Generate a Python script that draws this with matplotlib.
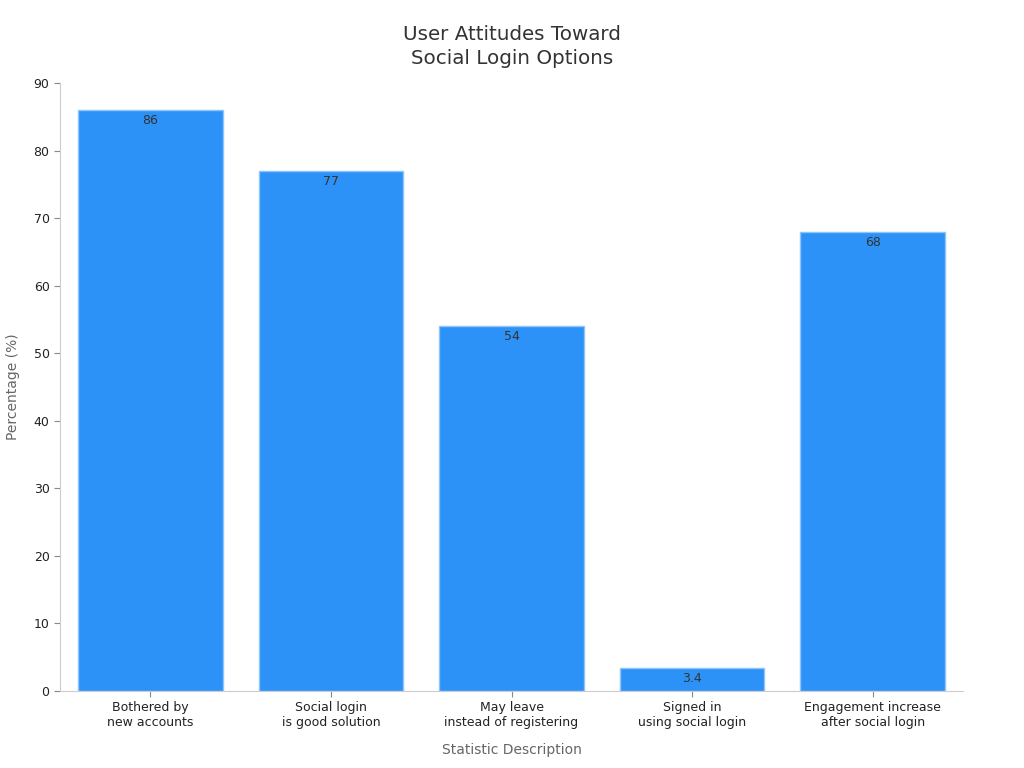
import matplotlib
matplotlib.use("Agg")
import matplotlib.pyplot as plt

categories = ["Bothered by\nnew accounts", "Social login\nis good solution",
              "May leave\ninstead of registering", "Signed in\nusing social login",
              "Engagement increase\nafter social login"]
values = [86, 77, 54, 3.4, 68]
value_labels = ["86", "77", "54", "3.4", "68"]

fig = plt.figure(figsize=(10.24, 7.68), dpi=100)
ax = fig.add_axes([60/1024, 1-691/768, 903/1024, 608/768])

x = range(len(categories))
bars = ax.bar(x, values, width=0.8, color="#2d92f8", edgecolor="#8cc4fb", linewidth=1)
for b, lab in zip(bars, value_labels):
    ax.text(b.get_x() + b.get_width()/2, b.get_height() - 0.6, lab,
            ha="center", va="top", fontsize=9, color="#333333")

ax.set_xlim(-0.5, 4.5)
ax.set_ylim(0, 90)
ax.set_yticks(range(0, 91, 10))
ax.set_xticks(list(x))
ax.set_xticklabels(categories, fontsize=9, color="#222222")
ax.tick_params(axis="y", labelsize=9, labelcolor="#222222", color="#888888", length=4)
ax.tick_params(axis="x", color="#888888", length=4)
for s in ["top", "right"]:
    ax.spines[s].set_visible(False)
for s in ["left", "bottom"]:
    ax.spines[s].set_color("#cccccc")

ax.set_xlabel("Statistic Description", fontsize=10, color="#666666", labelpad=10)
ax.set_ylabel("Percentage (%)", fontsize=10, color="#666666", labelpad=10)
fig.suptitle("User Attitudes Toward\nSocial Login Options", fontsize=14.3, color="#333333",
             y=0.968, linespacing=1.35)

fig.savefig("out.png", dpi=100)
